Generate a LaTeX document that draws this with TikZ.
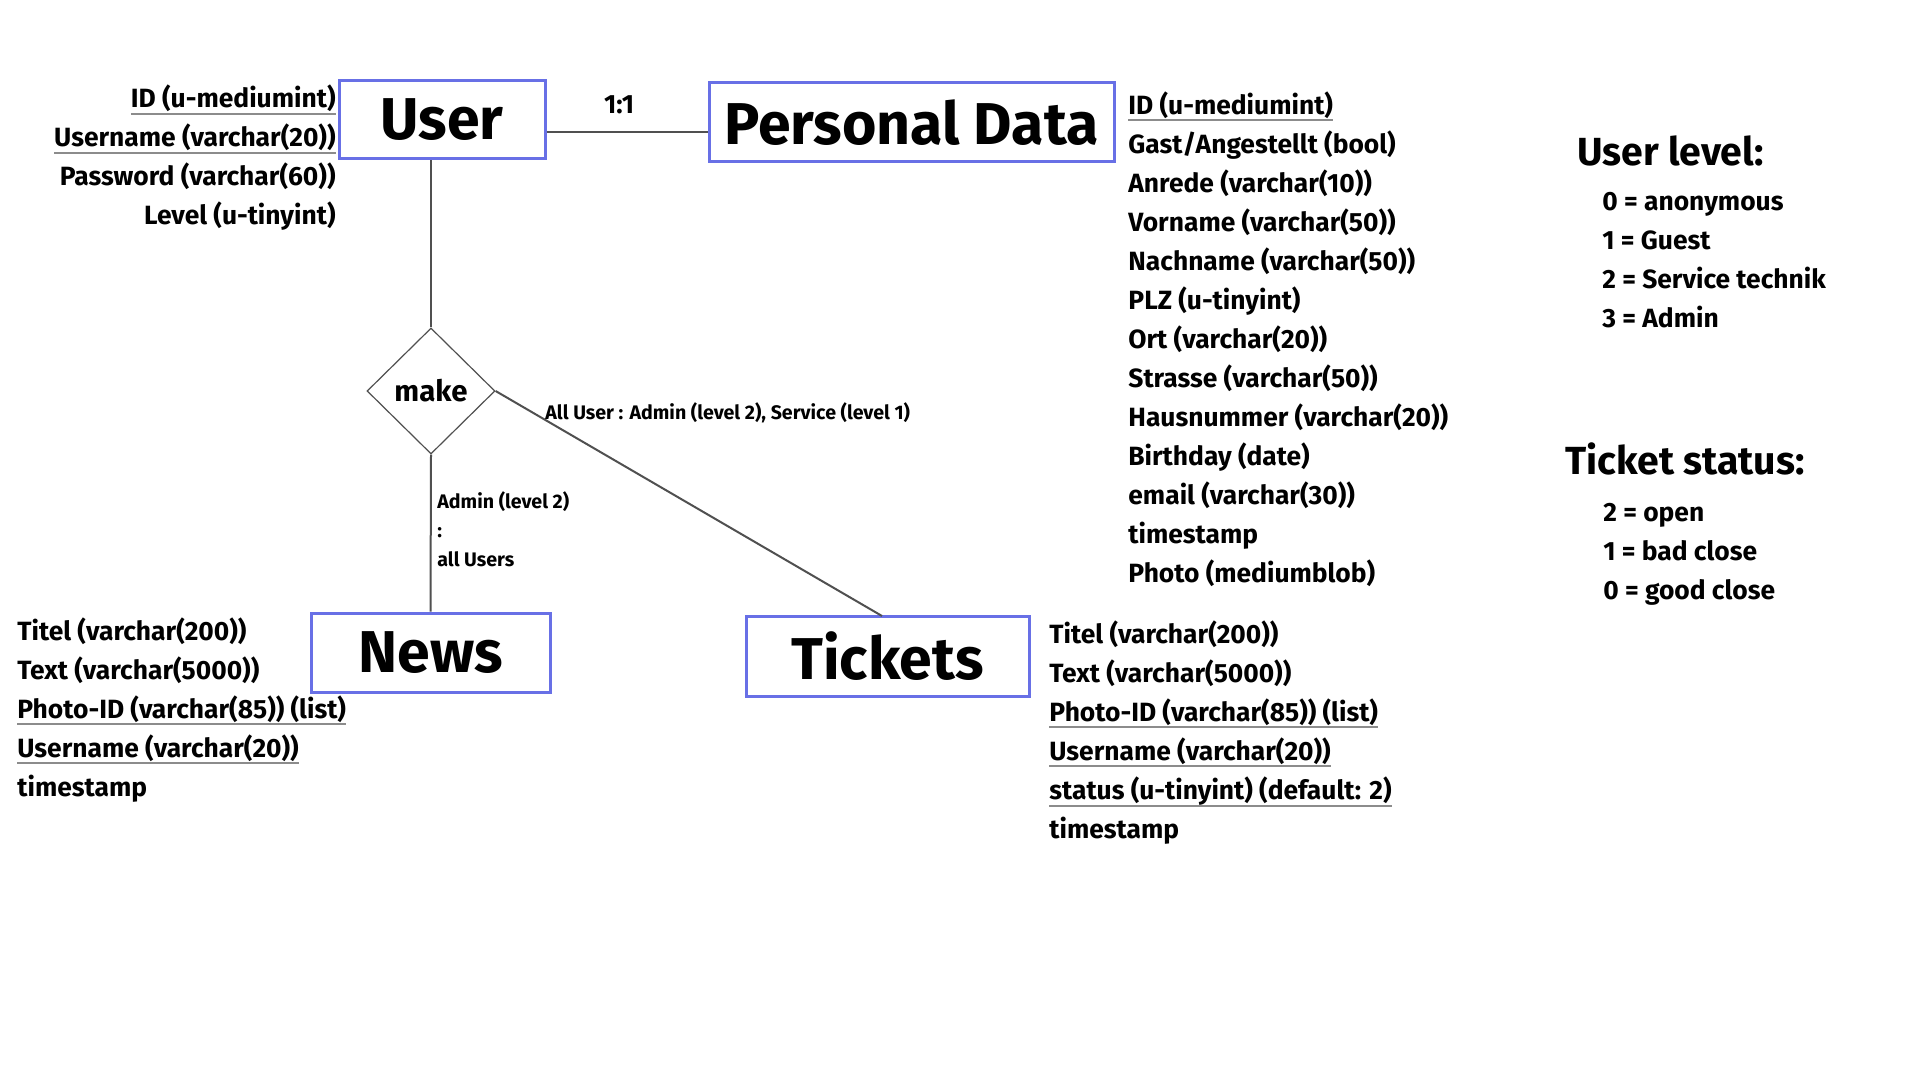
\documentclass[tikz,border=0pt]{standalone}
\usepackage{fontspec}
\setmainfont{Fira Sans}
\usetikzlibrary{shapes.geometric}
\definecolor{boxblue}{RGB}{104,112,230}
\definecolor{linegray}{RGB}{80,80,80}
\definecolor{ulgray}{RGB}{140,140,140}
\newcommand\ulg[1]{\leavevmode\vtop{\hbox{#1}\kern0.2pt{\color{ulgray}\hrule height 1pt}}}
\tikzset{
  entity/.style={draw=boxblue, line width=1.5pt, fill=white, inner sep=0pt,
    font=\fontsize{29.5}{32}\selectfont\bfseries},
  rel/.style={draw=linegray, line width=0.6pt, diamond, aspect=1, inner sep=0pt,
    minimum width=64pt, minimum height=63pt, font=\fontsize{14.7}{17}\selectfont\bfseries},
  conn/.style={draw=linegray, line width=1pt},
  attrs/.style={inner sep=0pt, font=\fontsize{13.2}{19.5}\selectfont\bfseries},
  small/.style={inner sep=0pt, font=\fontsize{9.8}{14.5}\selectfont\bfseries},
  heading/.style={inner sep=0pt, font=\fontsize{19.6}{22}\selectfont\bfseries, anchor=base west},
}
\begin{document}
\begin{tikzpicture}[x=0.5pt,y=-0.5pt]
\useasboundingbox[fill=white] (0,0) rectangle (1920,1080);

% entities
\node[entity, minimum width=103pt, minimum height=39pt] (user) at (442,120) {User};
\node[entity, minimum width=202.5pt, minimum height=39.5pt] (pd) at (911.5,122.5) {Personal Data};
\node[entity, minimum width=119.5pt, minimum height=39.5pt] (news) at (430.5,652.5) {News};
\node[entity, minimum width=141.5pt, minimum height=40pt] (tickets) at (887.5,656) {Tickets};
\node[rel] (make) at (431,391) {make};

% connectors
\coordinate (l11) at (545,132);
\coordinate (tkin) at (882,616);
\draw[conn] (user.east |- l11) -- (pd.west |- l11);
\draw[conn] (make.north) -- (make.north |- user.south);
\draw[conn] (make.south) -- (news.north);
\draw[conn] (make.east) -- (tkin);

% connector labels
\node[attrs, anchor=base] (oneone) at (619,114) {1:1};
\node[small, anchor=base west] (lblall) at (545,419) {All User : Admin (level 2), Service (level 1)};
\node[small, anchor=base west, align=left] (lbladmin) at (437,566) {Admin (level 2)\\:\\all Users};

% attributes
\node[attrs, anchor=base east, align=right] (uattr) at (336,225)
  {\ulg{ID (u-mediumint)}\\\ulg{Username (varchar(20))}\\Password (varchar(60))\\Level (u-tinyint)};
\node[attrs, anchor=base west, align=left] (pdattr) at (1128,582)
  {\ulg{ID (u-mediumint)}\\Gast/Angestellt (bool)\\Anrede (varchar(10))\\Vorname (varchar(50))\\Nachname (varchar(50))\\PLZ (u-tinyint)\\Ort (varchar(20))\\Strasse (varchar(50))\\Hausnummer (varchar(20))\\Birthday (date)\\email (varchar(30))\\timestamp\\Photo (mediumblob)};
\node[attrs, anchor=base west, align=left] (nattr) at (17,796)
  {Titel (varchar(200))\\Text (varchar(5000))\\\ulg{Photo-ID (varchar(85)) (list)}\\\ulg{Username (varchar(20))}\\timestamp};
\node[attrs, anchor=base west, align=left] (tattr) at (1049,838)
  {Titel (varchar(200))\\Text (varchar(5000))\\\ulg{Photo-ID (varchar(85)) (list)}\\\ulg{Username (varchar(20))}\\\ulg{status (u-tinyint) (default: 2)}\\timestamp};

% legends
\node[heading] (ulhead) at (1577,165.5) {User level:};
\node[attrs, anchor=base west, align=left] (ulitems) at (1602,328)
  {0 = anonymous\\1 = Guest\\2 = Service technik\\3 = Admin};
\node[heading] (tshead) at (1565,474.5) {Ticket status:};
\node[attrs, anchor=base west, align=left] (tsitems) at (1603,599)
  {2 = open\\1 = bad close\\0 = good close};
\end{tikzpicture}
\end{document}
